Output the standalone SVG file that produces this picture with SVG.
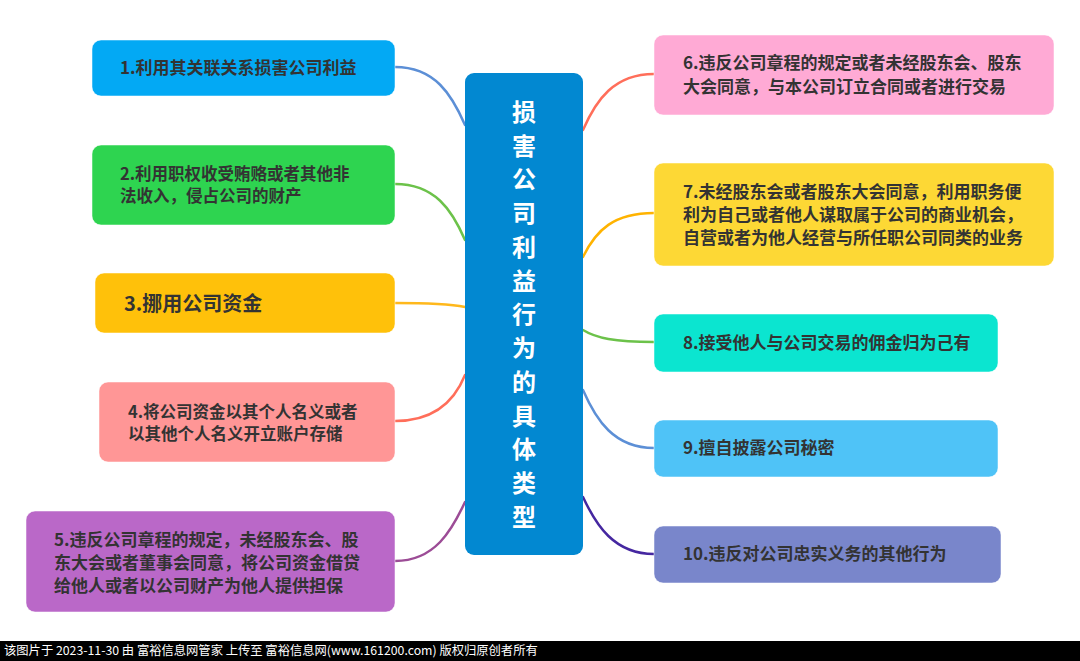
<svg xmlns="http://www.w3.org/2000/svg" width="1080" height="661" viewBox="0 0 1080 661">
<style>
.t{font-family:"Noto Sans CJK SC","Noto Sans",sans-serif;font-weight:bold;font-size:17px;fill:#333333}
.m{font-size:16.5px}
.c{fill:none;stroke-width:2.5;stroke-linecap:round}
.box{stroke:#ffffff;stroke-opacity:0.5;stroke-width:1}
.ct{font-family:"Noto Sans CJK SC","Noto Sans",sans-serif;font-weight:bold;font-size:24px;fill:#ffffff;text-anchor:middle}
.ft{font-family:"Noto Sans CJK SC","Noto Sans",sans-serif;font-size:12.3px;fill:#ffffff}
</style>
<rect width="1080" height="661" fill="#ffffff"/>
<g id="connectors">
<path class="c" stroke="#5C8FD6" d="M395,67 C435,67 452,95 465,125"/>
<path class="c" stroke="#6CC24A" d="M395,184 C435,184 452,210 465,240"/>
<path class="c" stroke="#FFB81C" d="M395,303 C430,303 450,304 465,307"/>
<path class="c" stroke="#FF6E5A" d="M395,421 C435,421 455,400 465,375"/>
<path class="c" stroke="#9C4C96" d="M395,561 C435,561 452,530 465,502"/>
<path class="c" stroke="#FF6E5A" d="M654,74 C614,74 596,100 583,130"/>
<path class="c" stroke="#FFB300" d="M654,213 C614,213 596,230 583,257"/>
<path class="c" stroke="#6CC24A" d="M654,342 C614,342 596,338 583,330"/>
<path class="c" stroke="#5C8FD6" d="M654,448 C614,448 596,420 583,390"/>
<path class="c" stroke="#4527A0" d="M654,554 C614,554 596,525 583,497"/>
</g>
<g id="center">
<rect x="465" y="73" width="118" height="482" rx="9" fill="#0288D1"/>
<text class="ct" x="524" y="121">损</text>
<text class="ct" x="524" y="155">害</text>
<text class="ct" x="524" y="188">公</text>
<text class="ct" x="524" y="222">司</text>
<text class="ct" x="524" y="256">利</text>
<text class="ct" x="524" y="290">益</text>
<text class="ct" x="524" y="323">行</text>
<text class="ct" x="524" y="357">为</text>
<text class="ct" x="524" y="391">的</text>
<text class="ct" x="524" y="425">具</text>
<text class="ct" x="524" y="458">体</text>
<text class="ct" x="524" y="492">类</text>
<text class="ct" x="524" y="526">型</text>
</g>
<g id="n1">
<rect class="box" x="92" y="40" width="303" height="56" rx="9" fill="#03A9F4"/>
<text class="t" x="120" y="74">1.利用其关联关系损害公司利益</text>
</g>
<g id="n2">
<rect class="box" x="92" y="145" width="303" height="80" rx="9" fill="#2ED450"/>
<text class="t m" x="120" y="179.5">2.利用职权收受贿赂或者其他非<tspan x="120" dy="22">法收入，侵占公司的财产</tspan></text>
</g>
<g id="n3">
<rect class="box" x="95" y="273" width="300" height="60" rx="9" fill="#FFC10A"/>
<text class="t" x="124" y="311" style="font-size:20px">3.挪用公司资金</text>
</g>
<g id="n4">
<rect class="box" x="99" y="382" width="296" height="80" rx="9" fill="#FF9696"/>
<text class="t m" x="128" y="417.5">4.将公司资金以其个人名义或者<tspan x="128" dy="22">以其他个人名义开立账户存储</tspan></text>
</g>
<g id="n5">
<rect class="box" x="26" y="511" width="369" height="101" rx="9" fill="#BA68C8"/>
<text class="t" x="54" y="545.5">5.违反公司章程的规定，未经股东会、股<tspan x="54" dy="23">东大会或者董事会同意，将公司资金借贷</tspan><tspan x="54" dy="23">给他人或者以公司财产为他人提供担保</tspan></text>
</g>
<g id="n6">
<rect class="box" x="654" y="35" width="400" height="80" rx="9" fill="#FFAAD5"/>
<text class="t" x="683" y="69">6.违反公司章程的规定或者未经股东会、股东<tspan x="683" dy="24">大会同意，与本公司订立合同或者进行交易</tspan></text>
</g>
<g id="n7">
<rect class="box" x="654" y="163" width="400" height="103" rx="9" fill="#FDD835"/>
<text class="t" x="683" y="198">7.未经股东会或者股东大会同意，利用职务便<tspan x="683" dy="23">利为自己或者他人谋取属于公司的商业机会，</tspan><tspan x="683" dy="23">自营或者为他人经营与所任职公司同类的业务</tspan></text>
</g>
<g id="n8">
<rect class="box" x="654" y="314" width="344" height="58" rx="9" fill="#0BE5D0"/>
<text class="t" x="683" y="349">8.接受他人与公司交易的佣金归为己有</text>
</g>
<g id="n9">
<rect class="box" x="654" y="420" width="344" height="57" rx="9" fill="#4FC3F7"/>
<text class="t" x="683" y="454">9.擅自披露公司秘密</text>
</g>
<g id="n10">
<rect class="box" x="654" y="526" width="347" height="57" rx="9" fill="#7986CB"/>
<text class="t" x="683" y="560">10.违反对公司忠实义务的其他行为</text>
</g>
<g id="footer">
<rect x="0" y="641" width="1080" height="20" fill="#000000"/>
<text class="ft" x="4" y="655">该图片于 2023-11-30 由 富裕信息网管家 上传至 富裕信息网(www.161200.com) 版权归原创者所有</text>
</g>
</svg>
